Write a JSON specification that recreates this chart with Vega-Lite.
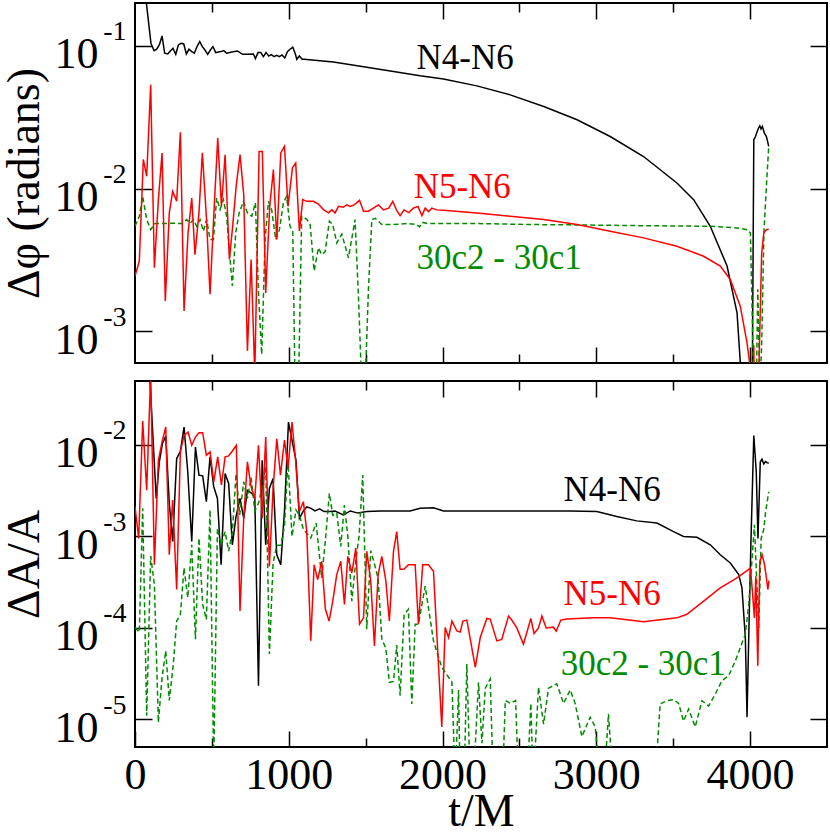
{
  "$schema": "https://vega.github.io/schema/vega-lite/v6.json",
  "background": "white",
  "padding": {"left": 0, "top": 1, "right": 2, "bottom": 0},
  "spacing": 14,
  "config": {
    "view": {"stroke": "black", "strokeWidth": 2},
    "font": "Liberation Serif",
    "axis": {"grid": false, "domain": false, "labelFlush": false, "labelFont": "Liberation Serif", "titleFont": "Liberation Serif", "labelColor": "black", "titleColor": "black", "tickColor": "black", "tickWidth": 1.5, "titleFontWeight": "normal"}
  },
  "datasets": {
    "topN4": [{"t":0,"v":1.0},{"t":104,"v":0.104},{"t":124,"v":0.0927},{"t":141,"v":0.0948},{"t":158,"v":0.1016},{"t":176,"v":0.1175},{"t":193,"v":0.0889},{"t":213,"v":0.0879},{"t":230,"v":0.0923},{"t":247,"v":0.0963},{"t":265,"v":0.0874},{"t":282,"v":0.1016},{"t":299,"v":0.1044},{"t":317,"v":0.1033},{"t":334,"v":0.0879},{"t":351,"v":0.0948},{"t":369,"v":0.0913},{"t":386,"v":0.0889},{"t":403,"v":0.0989},{"t":421,"v":0.1072},{"t":438,"v":0.0989},{"t":455,"v":0.0937},{"t":473,"v":0.0874},{"t":490,"v":0.0937},{"t":507,"v":0.0989},{"t":525,"v":0.0898},{"t":542,"v":0.0908},{"t":560,"v":0.0913},{"t":577,"v":0.0927},{"t":596,"v":0.0889},{"t":631,"v":0.0908},{"t":666,"v":0.0923},{"t":700,"v":0.0874},{"t":735,"v":0.0874},{"t":770,"v":0.0879},{"t":783,"v":0.0815},{"t":800,"v":0.0898},{"t":818,"v":0.0898},{"t":835,"v":0.0842},{"t":852,"v":0.0898},{"t":870,"v":0.0851},{"t":887,"v":0.0869},{"t":904,"v":0.0842},{"t":922,"v":0.0861},{"t":939,"v":0.0842},{"t":956,"v":0.0865},{"t":974,"v":0.0824},{"t":991,"v":0.0913},{"t":1008,"v":0.0948},{"t":1026,"v":0.0979},{"t":1043,"v":0.0879},{"t":1052,"v":0.0807},{"t":1069,"v":0.0851},{"t":1087,"v":0.0807},{"t":1100,"v":0.0807},{"t":1290,"v":0.0773},{"t":1507,"v":0.0709},{"t":1681,"v":0.0662},{"t":1854,"v":0.0618},{"t":2006,"v":0.0587},{"t":2223,"v":0.0525},{"t":2440,"v":0.0454},{"t":2658,"v":0.0376},{"t":2875,"v":0.0304},{"t":3090,"v":0.0232},{"t":3307,"v":0.0168},{"t":3524,"v":0.01096},{"t":3633,"v":0.00838},{"t":3741,"v":0.00545},{"t":3850,"v":0.00287},{"t":3915,"v":0.00135},{"t":3936,"v":0.00061},{"t":3960,"v":0.0002},{"t":4000,"v":0.0002},{"t":4015,"v":0.0006},{"t":4024,"v":0.022},{"t":4035,"v":0.0232},{"t":4050,"v":0.0259},{"t":4063,"v":0.0276},{"t":4071,"v":0.0262},{"t":4080,"v":0.0273},{"t":4093,"v":0.0245},{"t":4106,"v":0.0232},{"t":4121,"v":0.0198}],
    "topN5": [{"t":0,"v":0.00244},{"t":28,"v":0.0031},{"t":54,"v":0.016},{"t":76,"v":0.0122},{"t":102,"v":0.0534},{"t":126,"v":0.00279},{"t":152,"v":0.00838},{"t":176,"v":0.01775},{"t":197,"v":0.00163},{"t":223,"v":0.00676},{"t":245,"v":0.00958},{"t":271,"v":0.00815},{"t":295,"v":0.0248},{"t":319,"v":0.00139},{"t":345,"v":0.0049},{"t":369,"v":0.0086},{"t":390,"v":0.00345},{"t":416,"v":0.00676},{"t":438,"v":0.0178},{"t":464,"v":0.00641},{"t":488,"v":0.00182},{"t":512,"v":0.00641},{"t":538,"v":0.0226},{"t":562,"v":0.00752},{"t":586,"v":0.0173},{"t":614,"v":0.00319},{"t":633,"v":0.00516},{"t":659,"v":0.01067},{"t":683,"v":0.0173},{"t":707,"v":0.00908},{"t":731,"v":0.00073},{"t":755,"v":0.00319},{"t":779,"v":0.0005},{"t":807,"v":0.0182},{"t":828,"v":0.0182},{"t":850,"v":0.00186},{"t":876,"v":0.00752},{"t":900,"v":0.0136},{"t":922,"v":0.0044},{"t":948,"v":0.0178},{"t":972,"v":0.0198},{"t":995,"v":0.00752},{"t":1024,"v":0.014},{"t":1045,"v":0.0151},{"t":1069,"v":0.00504},{"t":1091,"v":0.00838},{"t":1117,"v":0.00815},{"t":1160,"v":0.00815},{"t":1193,"v":0.0078},{"t":1225,"v":0.00713},{"t":1258,"v":0.00676},{"t":1280,"v":0.0071},{"t":1301,"v":0.00676},{"t":1323,"v":0.00752},{"t":1355,"v":0.0074},{"t":1377,"v":0.0077},{"t":1399,"v":0.0075},{"t":1425,"v":0.0077},{"t":1460,"v":0.00828},{"t":1486,"v":0.00695},{"t":1518,"v":0.00695},{"t":1550,"v":0.0073},{"t":1583,"v":0.0077},{"t":1615,"v":0.0071},{"t":1650,"v":0.0073},{"t":1676,"v":0.00815},{"t":1700,"v":0.0071},{"t":1724,"v":0.00647},{"t":1750,"v":0.0071},{"t":1780,"v":0.0068},{"t":1810,"v":0.0073},{"t":1840,"v":0.0075},{"t":1866,"v":0.00647},{"t":1887,"v":0.0073},{"t":1909,"v":0.0069},{"t":1930,"v":0.0073},{"t":1963,"v":0.0071},{"t":2006,"v":0.00706},{"t":2223,"v":0.00676},{"t":2440,"v":0.00641},{"t":2658,"v":0.00607},{"t":2875,"v":0.0056},{"t":3090,"v":0.00503},{"t":3307,"v":0.00452},{"t":3524,"v":0.00395},{"t":3698,"v":0.00336},{"t":3806,"v":0.00287},{"t":3871,"v":0.00231},{"t":3936,"v":0.0015},{"t":3980,"v":0.00083},{"t":3997,"v":0.0006},{"t":4010,"v":0.0002},{"t":4020,"v":0.0002},{"t":4024,"v":0.0008},{"t":4030,"v":0.0002},{"t":4050,"v":0.0002},{"t":4058,"v":0.0006},{"t":4075,"v":0.0035},{"t":4089,"v":0.0049},{"t":4106,"v":0.00516},{"t":4121,"v":0.0052}],
    "top30": [{"t":0,"v":0.00545},{"t":28,"v":0.00641},{"t":50,"v":0.00883},{"t":76,"v":0.00607},{"t":102,"v":0.00516},{"t":130,"v":0.00569},{"t":184,"v":0.00569},{"t":249,"v":0.00573},{"t":304,"v":0.00569},{"t":336,"v":0.00607},{"t":358,"v":0.0057},{"t":380,"v":0.00607},{"t":401,"v":0.00545},{"t":423,"v":0.00607},{"t":445,"v":0.00503},{"t":466,"v":0.00607},{"t":488,"v":0.0044},{"t":510,"v":0.0044},{"t":531,"v":0.0086},{"t":553,"v":0.00713},{"t":575,"v":0.00838},{"t":596,"v":0.00641},{"t":612,"v":0.00385},{"t":633,"v":0.00208},{"t":655,"v":0.0049},{"t":677,"v":0.00676},{"t":705,"v":0.00815},{"t":731,"v":0.00676},{"t":759,"v":0.0064},{"t":783,"v":0.00795},{"t":802,"v":0.00197},{"t":824,"v":0.00069},{"t":846,"v":0.0044},{"t":868,"v":0.00815},{"t":889,"v":0.0071},{"t":915,"v":0.0044},{"t":939,"v":0.00516},{"t":965,"v":0.00795},{"t":986,"v":0.00883},{"t":1008,"v":0.00545},{"t":1026,"v":0.005},{"t":1041,"v":0.0004},{"t":1063,"v":0.0004},{"t":1084,"v":0.00641},{"t":1117,"v":0.0061},{"t":1139,"v":0.0056},{"t":1165,"v":0.00265},{"t":1193,"v":0.00385},{"t":1214,"v":0.00345},{"t":1236,"v":0.0036},{"t":1264,"v":0.00592},{"t":1286,"v":0.0056},{"t":1312,"v":0.00417},{"t":1345,"v":0.0048},{"t":1388,"v":0.00327},{"t":1431,"v":0.00607},{"t":1453,"v":0.00177},{"t":1475,"v":0.0004},{"t":1496,"v":0.0004},{"t":1518,"v":0.00197},{"t":1540,"v":0.00607},{"t":1562,"v":0.0062},{"t":1605,"v":0.00561},{"t":1681,"v":0.0056},{"t":1768,"v":0.0057},{"t":1830,"v":0.0056},{"t":1850,"v":0.0054},{"t":1870,"v":0.0058},{"t":1900,"v":0.0057},{"t":2200,"v":0.0057},{"t":2600,"v":0.0056},{"t":2875,"v":0.00557},{"t":3300,"v":0.0055},{"t":3741,"v":0.00545},{"t":3915,"v":0.0053},{"t":3980,"v":0.00516},{"t":4002,"v":0.0049},{"t":4024,"v":0.0004},{"t":4040,"v":0.0004},{"t":4050,"v":0.00197},{"t":4063,"v":0.0004},{"t":4075,"v":0.0008},{"t":4090,"v":0.005},{"t":4106,"v":0.0104},{"t":4121,"v":0.0198}],
    "botN4": [{"t":60,"v":0.3},{"t":98,"v":0.048},{"t":138,"v":0.0026},{"t":158,"v":0.0065},{"t":178,"v":0.0103},{"t":200,"v":0.0125},{"t":223,"v":0.0023},{"t":245,"v":0.00088},{"t":271,"v":0.0071},{"t":295,"v":0.0085},{"t":319,"v":0.0157},{"t":343,"v":0.0051},{"t":369,"v":0.00088},{"t":393,"v":0.0095},{"t":416,"v":0.00468},{"t":440,"v":0.0046},{"t":464,"v":0.0024},{"t":488,"v":0.0074},{"t":512,"v":0.0035},{"t":536,"v":0.0026},{"t":560,"v":0.00049},{"t":586,"v":0.00487},{"t":609,"v":0.0038},{"t":633,"v":0.00081},{"t":657,"v":0.00165},{"t":683,"v":0.0026},{"t":707,"v":0.00158},{"t":731,"v":0.0032},{"t":755,"v":0.003},{"t":779,"v":0.0027},{"t":803,"v":0.0000234},{"t":827,"v":0.0068},{"t":850,"v":0.00081},{"t":874,"v":0.00335},{"t":898,"v":0.0043},{"t":922,"v":0.00063},{"t":948,"v":0.00049},{"t":972,"v":0.0019},{"t":998,"v":0.0178},{"t":1021,"v":0.0112},{"t":1047,"v":0.0068},{"t":1069,"v":0.00158},{"t":1095,"v":0.0019},{"t":1117,"v":0.0021},{"t":1145,"v":0.00203},{"t":1170,"v":0.0019},{"t":1200,"v":0.002},{"t":1230,"v":0.00187},{"t":1269,"v":0.00187},{"t":1300,"v":0.0019},{"t":1355,"v":0.00172},{"t":1400,"v":0.0019},{"t":1450,"v":0.0018},{"t":1507,"v":0.00187},{"t":1600,"v":0.0019},{"t":1700,"v":0.0019},{"t":1789,"v":0.0019},{"t":1854,"v":0.00203},{"t":1941,"v":0.00206},{"t":2006,"v":0.0019},{"t":2200,"v":0.0019},{"t":2440,"v":0.0019},{"t":2830,"v":0.0019},{"t":3003,"v":0.00187},{"t":3133,"v":0.00165},{"t":3263,"v":0.00148},{"t":3394,"v":0.0014},{"t":3502,"v":0.00113},{"t":3567,"v":0.001},{"t":3654,"v":0.00098},{"t":3741,"v":0.00081},{"t":3806,"v":0.00063},{"t":3871,"v":0.000513},{"t":3926,"v":0.000383},{"t":3947,"v":0.000274},{"t":3969,"v":0.0000786},{"t":3980,"v":0.0000106},{"t":3991,"v":0.0000786},{"t":4006,"v":0.00096},{"t":4024,"v":0.0127},{"t":4040,"v":0.0051},{"t":4051,"v":0.00095},{"t":4066,"v":0.0065},{"t":4077,"v":0.007},{"t":4089,"v":0.0062},{"t":4100,"v":0.0066},{"t":4110,"v":0.0064},{"t":4121,"v":0.0063}],
    "botN5": [{"t":0,"v":0.00212},{"t":24,"v":0.00095},{"t":50,"v":0.0183},{"t":76,"v":0.0032},{"t":102,"v":0.06},{"t":126,"v":0.00049},{"t":152,"v":0.00681},{"t":176,"v":0.0108},{"t":200,"v":0.0157},{"t":223,"v":0.00063},{"t":245,"v":0.0025},{"t":271,"v":0.000263},{"t":295,"v":0.0084},{"t":319,"v":0.0127},{"t":345,"v":0.0138},{"t":369,"v":0.0099},{"t":393,"v":0.0122},{"t":416,"v":0.0136},{"t":440,"v":0.0136},{"t":464,"v":0.00772},{"t":488,"v":0.0084},{"t":512,"v":0.00396},{"t":538,"v":0.00741},{"t":562,"v":0.00365},{"t":586,"v":0.00741},{"t":609,"v":0.0076},{"t":633,"v":0.0086},{"t":659,"v":0.0099},{"t":683,"v":0.000153},{"t":707,"v":0.00158},{"t":731,"v":0.00653},{"t":755,"v":0.00349},{"t":779,"v":0.00261},{"t":803,"v":0.0099},{"t":827,"v":0.00158},{"t":850,"v":0.0122},{"t":874,"v":0.00047},{"t":898,"v":0.00335},{"t":922,"v":0.0117},{"t":946,"v":0.00468},{"t":972,"v":0.0113},{"t":995,"v":0.00553},{"t":1021,"v":0.0178},{"t":1045,"v":0.00653},{"t":1069,"v":0.00187},{"t":1095,"v":0.0024},{"t":1117,"v":0.00113},{"t":1143,"v":0.0000723},{"t":1165,"v":0.00049},{"t":1188,"v":0.000338},{"t":1214,"v":0.000535},{"t":1238,"v":0.00016},{"t":1262,"v":0.000119},{"t":1286,"v":0.000196},{"t":1312,"v":0.000383},{"t":1338,"v":0.000535},{"t":1362,"v":0.000181},{"t":1384,"v":0.000606},{"t":1410,"v":0.000399},{"t":1436,"v":0.000746},{"t":1460,"v":0.00011},{"t":1486,"v":0.000129},{"t":1507,"v":0.000687},{"t":1533,"v":0.000325},{"t":1557,"v":0.0000637},{"t":1581,"v":0.000383},{"t":1605,"v":0.000606},{"t":1631,"v":0.00033},{"t":1654,"v":0.000119},{"t":1681,"v":0.000687},{"t":1702,"v":0.00113},{"t":1724,"v":0.000435},{"t":1750,"v":0.00044},{"t":1778,"v":0.00049},{"t":1811,"v":0.00049},{"t":1822,"v":0.00049},{"t":1843,"v":0.00011},{"t":1871,"v":0.00049},{"t":1908,"v":0.00049},{"t":1941,"v":0.000417},{"t":1995,"v":0.0000083},{"t":2017,"v":0.000101},{"t":2039,"v":0.0000786},{"t":2061,"v":0.000119},{"t":2093,"v":0.0000927},{"t":2115,"v":0.00009},{"t":2132,"v":0.000119},{"t":2158,"v":0.000122},{"t":2213,"v":0.0000371},{"t":2245,"v":0.0000786},{"t":2288,"v":0.000127},{"t":2310,"v":0.000125},{"t":2353,"v":0.0000723},{"t":2385,"v":0.000075},{"t":2429,"v":0.000135},{"t":2450,"v":0.000122},{"t":2483,"v":0.0001},{"t":2526,"v":0.0000664},{"t":2574,"v":0.000127},{"t":2595,"v":0.000087},{"t":2624,"v":0.0001},{"t":2646,"v":0.000135},{"t":2674,"v":0.0001},{"t":2721,"v":0.000102},{"t":2739,"v":0.000092},{"t":2769,"v":0.000122},{"t":2808,"v":0.000125},{"t":2982,"v":0.000129},{"t":3090,"v":0.000129},{"t":3307,"v":0.000117},{"t":3524,"v":0.000129},{"t":3589,"v":0.000141},{"t":3698,"v":0.000196},{"t":3806,"v":0.000274},{"t":3915,"v":0.000352},{"t":3980,"v":0.000423},{"t":4002,"v":0.00045},{"t":4013,"v":0.000274},{"t":4028,"v":0.000129},{"t":4037,"v":0.000367},{"t":4050,"v":0.0000387},{"t":4063,"v":0.000535},{"t":4078,"v":0.000632},{"t":4093,"v":0.0005},{"t":4106,"v":0.000352},{"t":4115,"v":0.000263},{"t":4123,"v":0.00033}],
    "bot30": [{"t":0,"v":0.000101},{"t":28,"v":0.00009},{"t":50,"v":0.00203},{"t":76,"v":0.000011},{"t":102,"v":0.00061},{"t":126,"v":0.000299},{"t":152,"v":0.0000093},{"t":176,"v":0.0000288},{"t":200,"v":0.0000562},{"t":223,"v":0.0000161},{"t":249,"v":0.00004},{"t":271,"v":0.000119},{"t":295,"v":0.00014},{"t":319,"v":0.000453},{"t":343,"v":0.000214},{"t":369,"v":0.00081},{"t":393,"v":0.0000754},{"t":416,"v":0.00096},{"t":440,"v":0.000181},{"t":464,"v":0.000124},{"t":488,"v":0.00195},{"t":512,"v":0.000003},{"t":536,"v":0.00123},{"t":560,"v":0.00081},{"t":586,"v":0.00113},{"t":609,"v":0.00069},{"t":633,"v":0.0011},{"t":657,"v":0.00487},{"t":681,"v":0.00172},{"t":707,"v":0.00396},{"t":731,"v":0.0026},{"t":755,"v":0.0044},{"t":779,"v":0.0019},{"t":803,"v":0.0023},{"t":827,"v":0.0035},{"t":850,"v":0.00577},{"t":874,"v":0.0000518},{"t":898,"v":0.000513},{"t":922,"v":0.0008},{"t":948,"v":0.0008},{"t":972,"v":0.00129},{"t":995,"v":0.0068},{"t":1021,"v":0.001},{"t":1047,"v":0.00195},{"t":1069,"v":0.0017},{"t":1095,"v":0.0012},{"t":1143,"v":0.00096},{"t":1178,"v":0.0014},{"t":1214,"v":0.000352},{"t":1238,"v":0.0009},{"t":1264,"v":0.00296},{"t":1286,"v":0.0017},{"t":1312,"v":0.0018},{"t":1338,"v":0.00078},{"t":1362,"v":0.0022},{"t":1384,"v":0.001},{"t":1410,"v":0.000196},{"t":1436,"v":0.00055},{"t":1457,"v":0.001},{"t":1481,"v":0.00468},{"t":1507,"v":0.0000968},{"t":1533,"v":0.0007},{"t":1557,"v":0.0005},{"t":1581,"v":0.00035},{"t":1605,"v":0.0000754},{"t":1631,"v":0.00006},{"t":1654,"v":0.0000255},{"t":1681,"v":0.000026},{"t":1702,"v":0.000065},{"t":1724,"v":0.0000182},{"t":1750,"v":0.00014},{"t":1778,"v":0.00016},{"t":1800,"v":0.0000148},{"t":1822,"v":0.00011},{"t":1843,"v":0.00011},{"t":1887,"v":0.000286},{"t":1941,"v":0.0000723},{"t":1995,"v":0.0000371},{"t":2061,"v":0.0000255},{"t":2082,"v":0.000002},{"t":2104,"v":0.000021},{"t":2115,"v":0.000002},{"t":2140,"v":0.000002},{"t":2158,"v":0.0000403},{"t":2180,"v":0.000002},{"t":2200,"v":0.000002},{"t":2234,"v":0.0000255},{"t":2256,"v":0.0000055},{"t":2278,"v":0.000022},{"t":2310,"v":0.0000277},{"t":2330,"v":0.000002},{"t":2390,"v":0.000002},{"t":2408,"v":0.0000161},{"t":2440,"v":0.000015},{"t":2475,"v":0.0000161},{"t":2495,"v":0.000002},{"t":2550,"v":0.000002},{"t":2574,"v":0.000015},{"t":2590,"v":0.000002},{"t":2624,"v":0.0000225},{"t":2657,"v":0.0000089},{"t":2689,"v":0.000022},{"t":2743,"v":0.0000245},{"t":2787,"v":0.000015},{"t":2830,"v":0.000021},{"t":2862,"v":0.000015},{"t":2906,"v":0.0000065},{"t":2960,"v":0.0000106},{"t":2993,"v":0.0000083},{"t":3025,"v":0.000002},{"t":3050,"v":0.000002},{"t":3079,"v":0.0000115},{"t":3110,"v":0.000002},{"t":3382,"v":0.000002},{"t":3415,"v":0.0000148},{"t":3459,"v":0.000016},{"t":3502,"v":0.0000165},{"t":3535,"v":0.000015},{"t":3567,"v":0.0000096},{"t":3600,"v":0.000013},{"t":3643,"v":0.0000083},{"t":3687,"v":0.000016},{"t":3730,"v":0.000014},{"t":3774,"v":0.000019},{"t":3817,"v":0.0000266},{"t":3860,"v":0.00003},{"t":3904,"v":0.0000437},{"t":3936,"v":0.0000611},{"t":3969,"v":0.0000853},{"t":3991,"v":0.000181},{"t":4013,"v":0.00058},{"t":4028,"v":0.00134},{"t":4041,"v":0.0004},{"t":4056,"v":0.0001},{"t":4072,"v":0.00096},{"t":4089,"v":0.0012},{"t":4100,"v":0.0018},{"t":4121,"v":0.00308}],
    "topLab": [{"label":"N4-N6","t":2147,"v":0.0824},{"label":"N5-N6","t":2128,"v":0.0103},{"label":"30c2 - 30c1","t":2368,"v":0.00329}],
    "botLab": [{"label":"N4-N6","t":3103,"v":0.00324},{"label":"N5-N6","t":3103,"v":0.000234},{"label":"30c2 - 30c1","t":3305,"v":0.0000406}]
  },
  "vconcat": [
    {
      "width": 692,
      "height": 360,
      "resolve": {"axis": {"x": "independent", "y": "independent"}},
      "layer": [
        {
          "data": {"name": "topN4"},
          "mark": {"type": "line", "color": "black", "strokeWidth": 1.5, "clip": true},
          "encoding": {
            "x": {"field": "t", "type": "quantitative", "scale": {"domain": [0, 4500], "nice": false, "zero": false},
                  "axis": {"orient": "bottom", "values": [1000, 2000, 3000, 4000], "labels": false, "tickSize": -16, "title": null}},
            "y": {"field": "v", "type": "quantitative", "scale": {"type": "log", "domain": [0.0006, 0.2], "nice": false},
                  "axis": {"orient": "left", "values": [0.001, 0.01, 0.1], "labelExpr": "'10'", "labelFontSize": 44, "labelBaseline": "middle", "labelOffset": 9, "labelPadding": 54, "tickSize": -17, "title": "Δφ (radians)", "titleFontSize": 46, "titlePadding": 6}}
          }
        },
        {
          "data": {"name": "top30"},
          "mark": {"type": "line", "color": "#008b00", "strokeWidth": 1.5, "strokeDash": [5, 3], "clip": true},
          "encoding": {
            "x": {"field": "t", "type": "quantitative", "scale": {"domain": [0, 4500], "nice": false, "zero": false},
                  "axis": {"orient": "bottom", "values": [500, 1500, 2500, 3500], "labels": false, "tickSize": -9, "title": null}},
            "y": {"field": "v", "type": "quantitative", "scale": {"type": "log", "domain": [0.0006, 0.2], "nice": false},
                  "axis": {"orient": "left", "values": [0.001, 0.01, 0.1], "ticks": false, "labelExpr": "datum.value > 0.05 ? '-1' : datum.value > 0.005 ? '-2' : '-3'", "labelFontSize": 28, "labelBaseline": "middle", "labelOffset": -14, "labelPadding": 9, "title": null}}
          }
        },
        {
          "data": {"name": "topN5"},
          "mark": {"type": "line", "color": "#ff0000", "strokeWidth": 1.5, "clip": true},
          "encoding": {
            "x": {"field": "t", "type": "quantitative", "scale": {"domain": [0, 4500], "nice": false, "zero": false},
                  "axis": {"orient": "top", "values": [1000, 2000, 3000, 4000], "labels": false, "tickSize": -16, "title": null}},
            "y": {"field": "v", "type": "quantitative", "scale": {"type": "log", "domain": [0.0006, 0.2], "nice": false},
                  "axis": {"orient": "right", "values": [0.001, 0.01, 0.1], "labels": false, "tickSize": -17, "title": null}}
          }
        },
        {
          "data": {"name": "topLab"},
          "mark": {"type": "text", "font": "Liberation Serif", "fontSize": 35, "align": "center", "baseline": "middle"},
          "encoding": {
            "x": {"field": "t", "type": "quantitative", "scale": {"domain": [0, 4500], "nice": false, "zero": false},
                  "axis": {"orient": "top", "values": [500, 1500, 2500, 3500], "labels": false, "tickSize": -9, "title": null}},
            "y": {"field": "v", "type": "quantitative", "scale": {"type": "log", "domain": [0.0006, 0.2], "nice": false}, "axis": null},
            "text": {"field": "label"},
            "color": {"field": "label", "type": "nominal", "scale": {"domain": ["N4-N6", "N5-N6", "30c2 - 30c1"], "range": ["black", "#ff0000", "#008b00"]}, "legend": null}
          }
        }
      ]
    },
    {
      "width": 692,
      "height": 366,
      "resolve": {"axis": {"x": "independent", "y": "independent"}},
      "layer": [
        {
          "data": {"name": "botN4"},
          "mark": {"type": "line", "color": "black", "strokeWidth": 1.5, "clip": true},
          "encoding": {
            "x": {"field": "t", "type": "quantitative", "scale": {"domain": [0, 4500], "nice": false, "zero": false},
                  "axis": {"orient": "bottom", "values": [0, 1000, 2000, 3000, 4000], "format": "d", "labelFontSize": 44, "labelPadding": 22, "tickSize": -16, "title": "t/M", "titleFontSize": 46, "titlePadding": -8}},
            "y": {"field": "v", "type": "quantitative", "scale": {"type": "log", "domain": [0.000005, 0.05], "nice": false},
                  "axis": {"orient": "left", "values": [0.00001, 0.0001, 0.001, 0.01], "labelExpr": "'10'", "labelFontSize": 44, "labelBaseline": "middle", "labelOffset": 9, "labelPadding": 54, "tickSize": -17, "title": "ΔA/A", "titleFontSize": 46, "titlePadding": 6}}
          }
        },
        {
          "data": {"name": "bot30"},
          "mark": {"type": "line", "color": "#008b00", "strokeWidth": 1.5, "strokeDash": [5, 3], "clip": true},
          "encoding": {
            "x": {"field": "t", "type": "quantitative", "scale": {"domain": [0, 4500], "nice": false, "zero": false},
                  "axis": {"orient": "bottom", "values": [500, 1500, 2500, 3500], "labels": false, "tickSize": -9, "title": null}},
            "y": {"field": "v", "type": "quantitative", "scale": {"type": "log", "domain": [0.000005, 0.05], "nice": false},
                  "axis": {"orient": "left", "values": [0.00001, 0.0001, 0.001, 0.01], "ticks": false, "labelExpr": "datum.value > 0.005 ? '-2' : datum.value > 0.0005 ? '-3' : datum.value > 0.00005 ? '-4' : '-5'", "labelFontSize": 28, "labelBaseline": "middle", "labelOffset": -14, "labelPadding": 9, "title": null}}
          }
        },
        {
          "data": {"name": "botN5"},
          "mark": {"type": "line", "color": "#ff0000", "strokeWidth": 1.5, "clip": true},
          "encoding": {
            "x": {"field": "t", "type": "quantitative", "scale": {"domain": [0, 4500], "nice": false, "zero": false},
                  "axis": {"orient": "top", "values": [1000, 2000, 3000, 4000], "labels": false, "tickSize": -16, "title": null}},
            "y": {"field": "v", "type": "quantitative", "scale": {"type": "log", "domain": [0.000005, 0.05], "nice": false},
                  "axis": {"orient": "right", "values": [0.00001, 0.0001, 0.001, 0.01], "labels": false, "tickSize": -17, "title": null}}
          }
        },
        {
          "data": {"name": "botLab"},
          "mark": {"type": "text", "font": "Liberation Serif", "fontSize": 35, "align": "center", "baseline": "middle"},
          "encoding": {
            "x": {"field": "t", "type": "quantitative", "scale": {"domain": [0, 4500], "nice": false, "zero": false},
                  "axis": {"orient": "top", "values": [500, 1500, 2500, 3500], "labels": false, "tickSize": -9, "title": null}},
            "y": {"field": "v", "type": "quantitative", "scale": {"type": "log", "domain": [0.000005, 0.05], "nice": false}, "axis": null},
            "text": {"field": "label"},
            "color": {"field": "label", "type": "nominal", "scale": {"domain": ["N4-N6", "N5-N6", "30c2 - 30c1"], "range": ["black", "#ff0000", "#008b00"]}, "legend": null}
          }
        }
      ]
    }
  ]
}
